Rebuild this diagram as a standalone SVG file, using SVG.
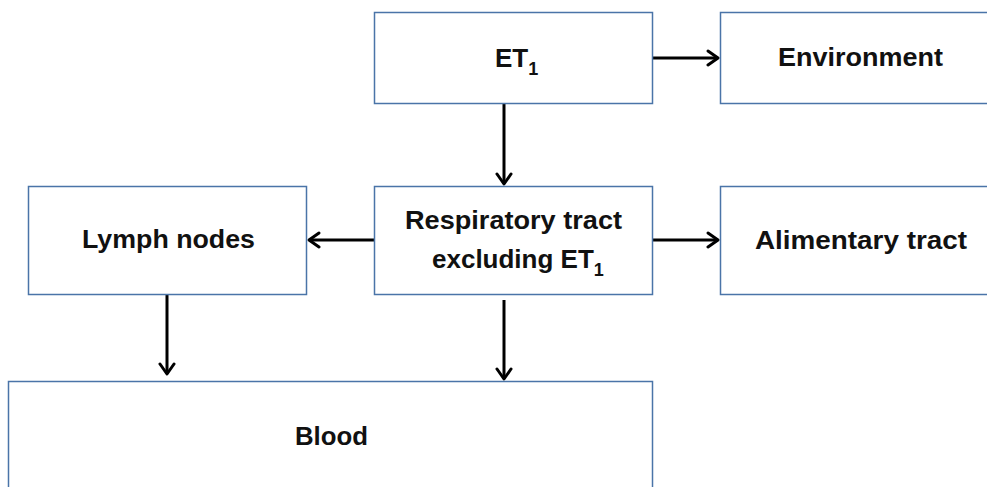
<svg xmlns="http://www.w3.org/2000/svg" width="987" height="487" viewBox="0 0 987 487">
  <style>
    .box { fill: #ffffff; stroke: #4a74a8; stroke-width: 1.5; }
    .lbl { font-family: "Liberation Sans", Arial, sans-serif; font-weight: bold; font-size: 26px; fill: #111111; }
    .sub { font-size: 18px; }
    .link { stroke: #000000; stroke-width: 3; fill: none; marker-end: url(#arr); }
  </style>
  <defs>
    <marker id="arr" markerUnits="userSpaceOnUse" markerWidth="18" markerHeight="18" viewBox="-14 -9 18 18" refX="0" refY="0" orient="auto">
      <path d="M-10,-7 L0,0 L-10,7" fill="none" stroke="#000000" stroke-width="3" stroke-linejoin="round" stroke-linecap="round"/>
    </marker>
  </defs>
  <rect width="987" height="487" fill="#ffffff"/>

  <g id="connectors">
    <path class="link" d="M653,58 L718,58"/>
    <path class="link" d="M504,104 L504,184"/>
    <path class="link" d="M374,240 L309,240"/>
    <path class="link" d="M653,240 L718,240"/>
    <path class="link" d="M167,294 L167,374"/>
    <path class="link" d="M504,300 L504,379"/>
  </g>

  <g id="et1">
    <rect class="box" x="374.5" y="12.5" width="278" height="91"/>
    <text class="lbl" x="495" y="67">ET<tspan class="sub" dy="8">1</tspan></text>
  </g>

  <g id="environment">
    <rect class="box" x="720.5" y="12.5" width="280" height="91"/>
    <text class="lbl" x="778" y="66" textLength="165" lengthAdjust="spacingAndGlyphs">Environment</text>
  </g>

  <g id="lymph-nodes">
    <rect class="box" x="28.5" y="186.5" width="278" height="108"/>
    <text class="lbl" x="82" y="248" textLength="173" lengthAdjust="spacingAndGlyphs">Lymph nodes</text>
  </g>

  <g id="respiratory-tract">
    <rect class="box" x="374.5" y="186.5" width="278" height="108"/>
    <text class="lbl" x="405" y="229" textLength="217" lengthAdjust="spacingAndGlyphs">Respiratory tract</text>
    <text class="lbl" x="432" y="268">excluding ET<tspan class="sub" dy="8">1</tspan></text>
  </g>

  <g id="alimentary-tract">
    <rect class="box" x="720.5" y="186.5" width="280" height="108"/>
    <text class="lbl" x="755" y="249" textLength="212" lengthAdjust="spacingAndGlyphs">Alimentary tract</text>
  </g>

  <g id="blood">
    <rect class="box" x="8.5" y="381.5" width="644" height="120"/>
    <text class="lbl" x="295" y="445" textLength="73" lengthAdjust="spacingAndGlyphs">Blood</text>
  </g>
</svg>
